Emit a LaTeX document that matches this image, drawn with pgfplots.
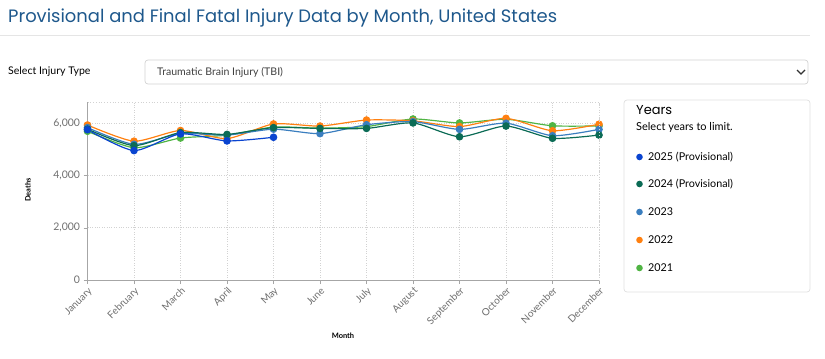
\documentclass[border=0pt]{standalone}
\usepackage{pgfplots}
\pgfplotsset{compat=1.18}
\usepackage{fontspec}
\setmainfont{Lato}
\newfontfamily\poppins{Poppins}
\definecolor{c2025}{RGB}{10,68,208}
\definecolor{c2024}{RGB}{11,107,85}
\definecolor{c2023}{RGB}{58,126,191}
\definecolor{c2022}{RGB}{255,128,16}
\definecolor{c2021}{RGB}{80,180,68}
\definecolor{titleblue}{RGB}{30,88,140}
\definecolor{ticktxt}{RGB}{110,110,110}
\begin{document}
\begin{tikzpicture}
\begin{scope}[x=1bp,y=1bp]
\path[use as bounding box] (0,0) rectangle (825,-358);
% title
\node[anchor=base west,inner sep=0,text=titleblue,font=\poppins\fontsize{18}{20}\selectfont] at (8,-22) {Provisional and Final Fatal Injury Data by Month, United States};
\draw[gray!20,line width=0.8] (0,-35) -- (810,-35);
% selector
\node[anchor=west,inner sep=0,font=\fontsize{10.6}{12}\selectfont] at (8,-72) {Select Injury Type};
\draw[gray!35,rounded corners=3,line width=0.7] (145,-60) rectangle (808,-84);
\node[anchor=west,inner sep=0,text=black!75,font=\fontsize{10.6}{12}\selectfont] at (157,-72) {Traumatic Brain Injury (TBI)};
\draw[black!80,line width=1.1] (797,-70) -- (801,-74) -- (805,-70);
% legend panel
\draw[gray!25,rounded corners=3,line width=0.7] (624,-100) rectangle (810,-292);
\node[anchor=base west,inner sep=0,font=\poppins\fontsize{13}{15}\selectfont] at (636,-114) {Years};
\node[anchor=base west,inner sep=0,font=\fontsize{11}{12}\selectfont] at (636,-130) {Select years to limit.};
\foreach \yy/\cc/\tt in {157/c2025/2025 (Provisional),184/c2024/2024 (Provisional),212/c2023/2023,240/c2022/2022,268/c2021/2021}{
  \fill[\cc] (639.5,-\yy) circle (3.3);
  \node[anchor=west,inner sep=0,font=\fontsize{10.8}{12}\selectfont] at (648,-\yy) {\tt};
}
\node[rotate=90,inner sep=0,font=\bfseries\fontsize{7.5}{9}\selectfont] at (28,-190) {Deaths};
\node[inner sep=0,font=\bfseries\fontsize{7.5}{9}\selectfont] at (343,-336) {Month};
\end{scope}
\begin{axis}[
  at={(87.5bp,-280bp)}, anchor=south west,
  scale only axis, width=511.5bp, height=177.7bp,
  xmin=0, xmax=11, ymin=0, ymax=6810,
  axis x line*=bottom, axis y line*=left,
  axis line style={gray!70,line width=0.7},
  xtick={0,...,11},
  xticklabels={January,February,March,April,May,June,July,August,September,October,November,December},
  xticklabel style={rotate=45,anchor=north east,text=ticktxt,font=\fontsize{10}{11}\selectfont,inner sep=1.5pt},
  ytick={0,2000,4000,6000},
  yticklabels={0,{2,000},{4,000},{6,000}},
  yticklabel style={text=ticktxt,font=\fontsize{10.5}{12}\selectfont},
  /pgf/number format/assume math mode=true,
  tick align=outside, major tick length=4bp,
  tick style={gray!70,line width=0.6},
  grid=major,
  major grid style={gray!35,dotted,line width=0.8},
  every axis plot/.append style={smooth,tension=0.4,line width=1.2,mark=*,mark size=3.2},
  clip=false,
]
\addplot[c2021,mark options={fill=c2021}] coordinates {(0,5700)(1,5070)(2,5440)(3,5550)(4,5860)(5,5820)(6,5880)(7,6170)(8,6020)(9,6160)(10,5910)(11,5905)};
\addplot[c2022,mark options={fill=c2022}] coordinates {(0,5940)(1,5320)(2,5730)(3,5420)(4,5980)(5,5900)(6,6130)(7,6100)(8,5880)(9,6195)(10,5720)(11,5970)};
\addplot[c2023,mark options={fill=c2023}] coordinates {(0,5840)(1,5200)(2,5610)(3,5555)(4,5780)(5,5610)(6,5950)(7,6070)(8,5773)(9,6010)(10,5530)(11,5773)};
\addplot[c2024,mark options={fill=c2024}] coordinates {(0,5780)(1,5150)(2,5650)(3,5580)(4,5840)(5,5810)(6,5810)(7,6020)(8,5490)(9,5900)(10,5430)(11,5555)};
\addplot[c2025,mark options={fill=c2025}] coordinates {(0,5760)(1,4960)(2,5600)(3,5330)(4,5470)};
\end{axis}
\draw[gray!35,dotted,line width=0.8] (87.5bp,-102.3bp) -- (599bp,-102.3bp) -- (599bp,-280bp);
\end{tikzpicture}
\end{document}
